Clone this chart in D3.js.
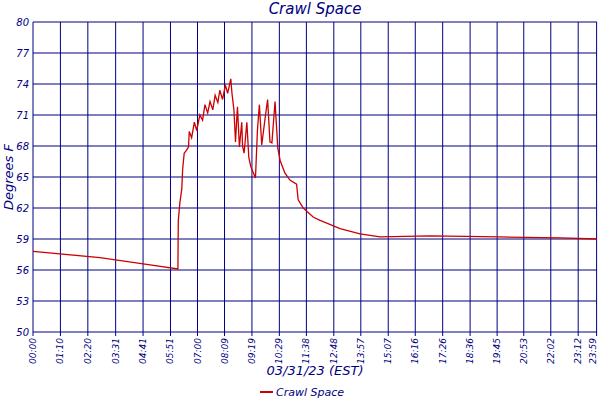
<!DOCTYPE html>
<html><head><meta charset="utf-8">
<script src="https://cdn.jsdelivr.net/npm/d3@7"></script>
<style>body{margin:0;background:#fff}</style></head>
<body><svg id="c" width="600" height="400"></svg>
<script>
const tickLabels=["00:00","01:10","02:20","03:31","04:41","05:51","07:00","08:09","09:19","10:29","11:38","12:48","13:57","15:07","16:16","17:26","18:36","19:45","20:53","22:02","23:12","23:59"];
const yTicks=[50,53,56,59,62,65,68,71,74,77,80];
const minutes=[0,171,299,370,371,375,380,382,386,392,397,399,405,412,418,426,433,439,446,452,459,465,472,477,484,491,497,505,508,513,517,522,527,533,535,539,546,551,556,568,573,578,584,592,599,605,610,618,625,631,643,656,673,677,690,716,733,784,835,886,1014,1192,1346,1440];
const temps=[57.8,57.2,56.5,56.1,60.8,62.5,63.9,65.7,67.3,67.6,67.9,69.4,68.8,70.3,69.5,71,70.5,72,71.2,72.3,71.5,72.9,72.2,73.4,72.5,73.9,73.1,74.5,73.1,71.5,68.4,71.8,67.9,70.3,68,67.3,70.3,66.9,66,64.9,69.5,72,68.1,70.5,72.5,68.4,68.3,72.3,67.8,66.6,65.4,64.7,64.3,62.8,62,61.1,60.8,60.0,59.5,59.2,59.3,59.2,59.1,59.0];
const navy="#000080", red="#cc0000";
const svg=d3.select("#c");
const x=d3.scaleLinear().domain([0,1440]).range([33,597]);
const y=d3.scaleLinear().domain([50,80]).range([332,22]);
const tm=s=>{const [h,m]=s.split(":").map(Number);return h*60+m;};
const g=svg.append("g");
g.selectAll(".v").data(tickLabels.map(tm)).join("line").attr("x1",d=>x(d)).attr("x2",d=>x(d)).attr("y1",22).attr("y2",336).attr("stroke",navy).attr("stroke-width",1);
g.selectAll(".h").data(yTicks).join("line").attr("x1",33).attr("x2",597).attr("y1",d=>y(d)).attr("y2",d=>y(d)).attr("stroke",navy).attr("stroke-width",1);
const f="'DejaVu Sans', sans-serif";
svg.selectAll(".yl").data(yTicks).join("text").attr("x",29).attr("y",d=>y(d)+4).attr("text-anchor","end").attr("font-family",f).attr("font-style","italic").attr("font-size",10).attr("fill",navy).text(d=>d);
svg.selectAll(".xl").data(tickLabels).join("text").attr("transform",s=>`translate(${Math.min(x(tm(s))+3,596)},338) rotate(-90)`).attr("text-anchor","end").attr("font-family",f).attr("font-style","italic").attr("font-size",9).attr("fill",navy).text(d=>d);
const line=d3.line().x((d,i)=>x(minutes[i])).y(d=>y(d)).curve(d3.curveLinear);
svg.append("path").datum(temps).attr("d",line).attr("fill","none").attr("stroke",red).attr("stroke-width",1.3);
svg.append("text").attr("x",315).attr("y",14).attr("text-anchor","middle").attr("font-family",f).attr("font-style","italic").attr("font-size",15).attr("fill",navy).text("Crawl Space");
svg.append("text").attr("x",315).attr("y",375).attr("text-anchor","middle").attr("font-family",f).attr("font-style","italic").attr("font-size",13).attr("fill",navy).text("03/31/23 (EST)");
svg.append("text").attr("transform","translate(13,177) rotate(-90)").attr("text-anchor","middle").attr("font-family",f).attr("font-style","italic").attr("font-size",13).attr("fill",navy).text("Degrees F");
svg.append("line").attr("x1",260).attr("x2",273).attr("y1",392).attr("y2",392).attr("stroke",red).attr("stroke-width",2);
svg.append("text").attr("x",276).attr("y",396).attr("font-family",f).attr("font-style","italic").attr("font-size",11).attr("fill",navy).text("Crawl Space");
</script></body></html>
